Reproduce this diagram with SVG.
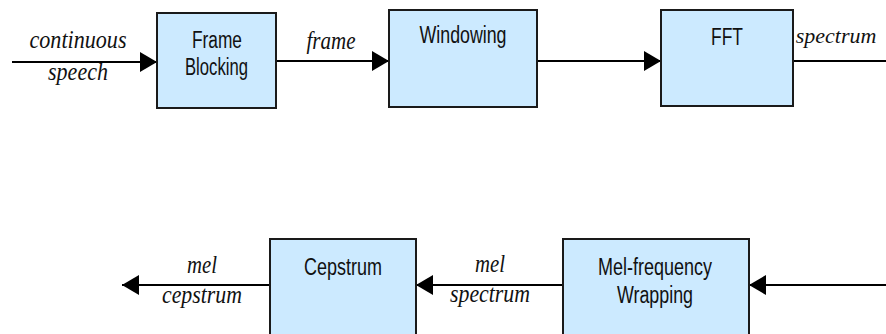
<svg xmlns="http://www.w3.org/2000/svg" width="886" height="334" viewBox="0 0 886 334">
<style>
.box{fill:#cceaff;stroke:#1a1a1a;stroke-width:2}
.lbl{font-family:"Liberation Sans",Arial,sans-serif;font-size:23px;fill:#111;text-anchor:middle}
.it{font-family:"Liberation Serif","Times New Roman",serif;font-style:italic;font-size:25px;fill:#111;text-anchor:middle}
.ln{stroke:#000;stroke-width:2;fill:none}
</style>
<defs>
<marker id="ah" markerUnits="userSpaceOnUse" markerWidth="17" markerHeight="20" refX="17" refY="10" orient="auto">
<path d="M0,0 L17,10 L0,20 z" fill="#000"/>
</marker>
</defs>
<rect width="886" height="334" fill="#fff"/>
<g id="connectors">
<line class="ln" x1="12" y1="62" x2="157" y2="62" marker-end="url(#ah)"/>
<line class="ln" x1="276" y1="61" x2="389" y2="61" marker-end="url(#ah)"/>
<line class="ln" x1="537" y1="61" x2="661" y2="61" marker-end="url(#ah)"/>
<line class="ln" x1="793" y1="61" x2="886" y2="61"/>
<line class="ln" x1="886" y1="285" x2="749" y2="285" marker-end="url(#ah)"/>
<line class="ln" x1="563" y1="285" x2="416" y2="285" marker-end="url(#ah)"/>
<line class="ln" x1="270" y1="285" x2="122" y2="285" marker-end="url(#ah)"/>
<text class="it" x="78" y="48" textLength="97" lengthAdjust="spacingAndGlyphs">continuous</text>
<text class="it" x="78" y="80" textLength="60" lengthAdjust="spacingAndGlyphs">speech</text>
<text class="it" x="331" y="49" textLength="49" lengthAdjust="spacingAndGlyphs">frame</text>
<text class="it" x="836" y="43" style="font-size:22px">spectrum</text>
<text class="it" x="490" y="272" textLength="30" lengthAdjust="spacingAndGlyphs">mel</text>
<text class="it" x="490" y="302" textLength="80" lengthAdjust="spacingAndGlyphs">spectrum</text>
<text class="it" x="202" y="273" textLength="30" lengthAdjust="spacingAndGlyphs">mel</text>
<text class="it" x="202" y="303" textLength="80" lengthAdjust="spacingAndGlyphs">cepstrum</text>
</g>
<g id="frame-blocking">
<rect class="box" x="157" y="13" width="119" height="95"/>
<text class="lbl" x="217" y="48" textLength="50" lengthAdjust="spacingAndGlyphs">Frame</text>
<text class="lbl" x="216.5" y="75" textLength="63" lengthAdjust="spacingAndGlyphs">Blocking</text>
</g>
<g id="windowing">
<rect class="box" x="389" y="10" width="148" height="97"/>
<text class="lbl" x="463" y="43" textLength="87" lengthAdjust="spacingAndGlyphs">Windowing</text>
</g>
<g id="fft">
<rect class="box" x="661" y="10" width="132" height="96"/>
<text class="lbl" x="727" y="45" textLength="32" lengthAdjust="spacingAndGlyphs">FFT</text>
</g>
<g id="cepstrum">
<rect class="box" x="270" y="239" width="146" height="110"/>
<text class="lbl" x="343" y="275" textLength="78" lengthAdjust="spacingAndGlyphs">Cepstrum</text>
</g>
<g id="mel-frequency-wrapping">
<rect class="box" x="563" y="239" width="186" height="110"/>
<text class="lbl" x="655" y="275" textLength="114" lengthAdjust="spacingAndGlyphs">Mel-frequency</text>
<text class="lbl" x="655" y="303" textLength="76" lengthAdjust="spacingAndGlyphs">Wrapping</text>
</g>
</svg>
